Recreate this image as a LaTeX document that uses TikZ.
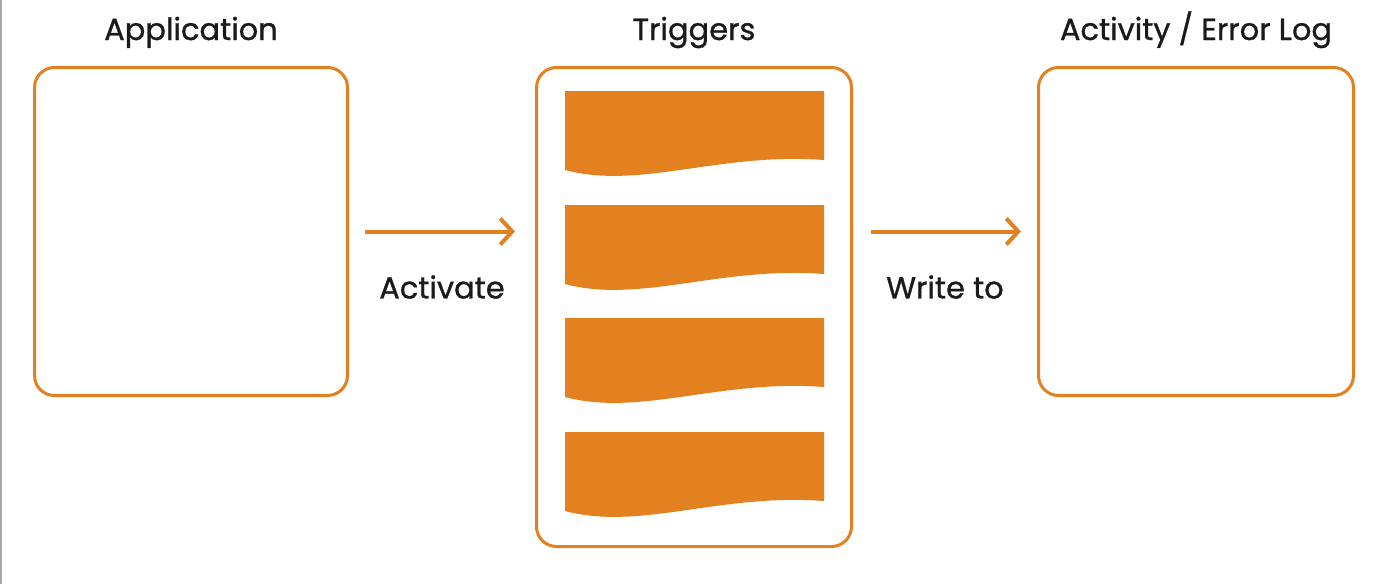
\documentclass[tikz,border=0pt]{standalone}
\usepackage{fontspec}
\setmainfont{Poppins}
\newfontfamily\medfont{Poppins}[FakeBold=0.9]
\usetikzlibrary{arrows.meta}
\definecolor{orng}{HTML}{E3801F}
\definecolor{txt}{HTML}{1A1A1A}
\definecolor{edge}{HTML}{A8A8A8}
\tikzset{
  panel/.style={draw=orng, line width=3pt, rounded corners=20pt, fill=white, inner sep=0pt},
  title/.style={text=txt, font=\medfont\fontsize{30.5}{34}\selectfont, anchor=base},
  lbl/.style={text=txt, font=\medfont\fontsize{30.5}{34}\selectfont},
  arr/.style={draw=orng, line width=4pt, -{Straight Barb[length=12pt,width=26pt,line width=4pt]}},
  docfill/.style={fill=orng, draw=none}
}
\begin{document}
\begin{tikzpicture}[x=1pt,y=-1pt]
\useasboundingbox (0,0) rectangle (1385,584);
\fill[white] (0,0) rectangle (1385,584);
\draw[edge, line width=1.5pt] (0.75,0) -- (0.75,584);
% panels
\node[panel, minimum width=313pt, minimum height=328pt] (app) at (191,231.5) {};
\node[panel, minimum width=315pt, minimum height=479pt] (trig) at (694,307) {};
\node[panel, minimum width=315pt, minimum height=328pt] (log) at (1196,231.5) {};
% titles
\node[title] (tapp) at (191,40) {Application};
\node[title] (ttrig) at (694,40) {Triggers};
\node[title] (tlog) at (1196,40) {Activity / Error Log};
% documents
\foreach \t in {91,205,318,432}{
  \fill[docfill] (565,\t) -- (824,\t) -- (824,\t+69)
    .. controls (720,\t+61) and (640,\t+99) .. (565,\t+79) -- cycle;
}
% arrows
\draw[arr, shorten <=16pt, shorten >=20pt] (app.east) -- (app.east -| trig.west);
\draw[arr, shorten <=18pt, shorten >=16pt] (trig.east |- log.west) -- (log.west);
% labels
\node[lbl] (lact) at (442,287) {Activate};
\node[lbl] (lwrite) at (945,287) {Write to};
\end{tikzpicture}
\end{document}
